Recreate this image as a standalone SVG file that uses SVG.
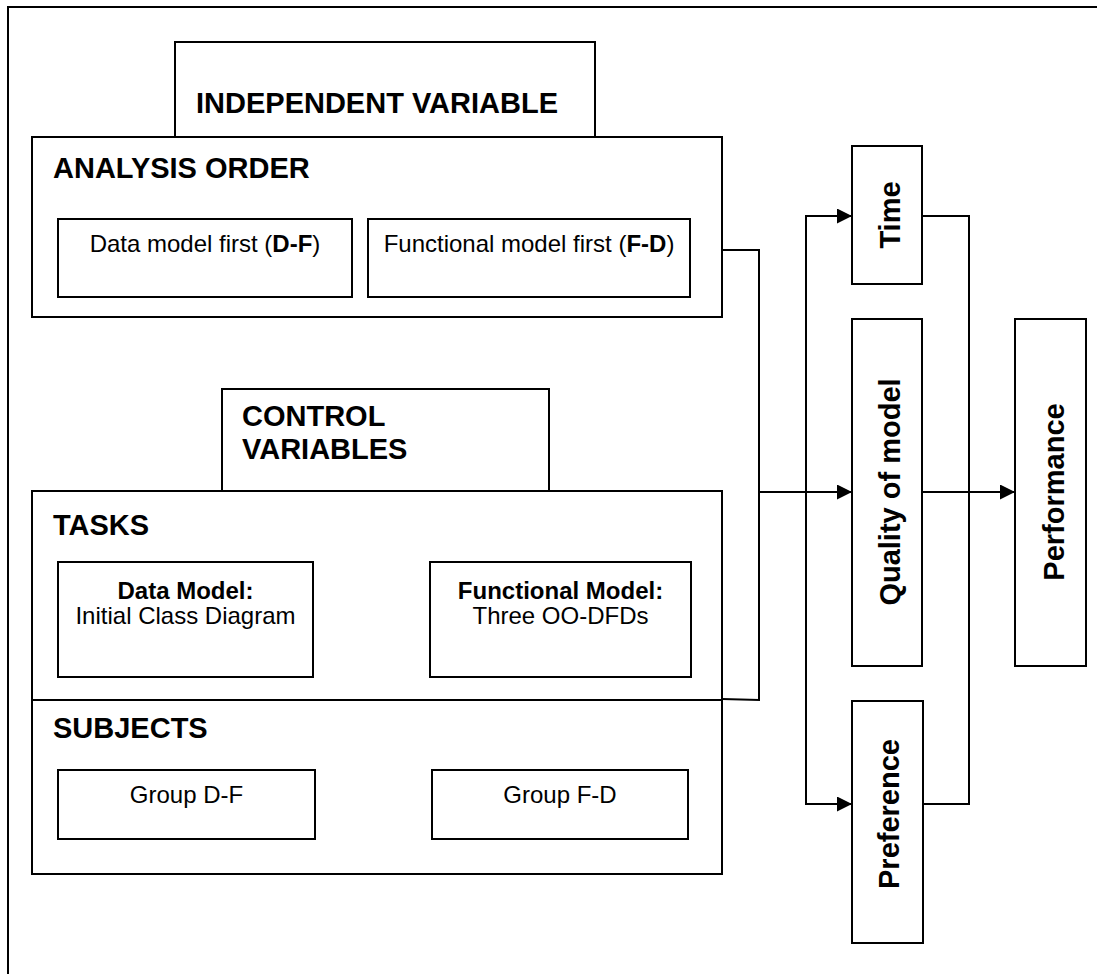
<svg xmlns="http://www.w3.org/2000/svg" width="1097" height="974" viewBox="0 0 1097 974">
<style>
.b{fill:#fff;stroke:#000;stroke-width:2}
.t{font-family:"Liberation Sans",Arial,sans-serif;font-size:24px;fill:#000}
.h{font-family:"Liberation Sans",Arial,sans-serif;font-size:29px;font-weight:bold;fill:#000}
.bo{font-weight:bold}
.c{fill:none;stroke:#000;stroke-width:2}
</style>
<defs>
<marker id="ah" markerUnits="userSpaceOnUse" markerWidth="16" markerHeight="16" refX="15" refY="7.5" orient="auto">
<path d="M0,0 L15,7.5 L0,15 Z" fill="#000"/>
</marker>
</defs>
<rect x="0" y="0" width="1097" height="974" fill="#fff"/>
<rect id="frame" x="8" y="7" width="1100" height="1000" class="b"/>

<g id="independent">
<rect x="175" y="42" width="420" height="95" class="b"/>
<text class="h" x="196" y="113">INDEPENDENT VARIABLE</text>
</g>
<g id="analysis-order">
<rect x="32" y="137" width="690" height="180" class="b"/>
<text class="h" x="53" y="178">ANALYSIS ORDER</text>
</g>
<g id="data-first">
<rect x="58" y="219" width="294" height="78" class="b"/>
<text class="t" x="205" y="252" text-anchor="middle">Data model first (<tspan class="bo">D-F</tspan>)</text>
</g>
<g id="func-first">
<rect x="368" y="219" width="322" height="78" class="b"/>
<text class="t" x="529" y="252" text-anchor="middle">Functional model first (<tspan class="bo">F-D</tspan>)</text>
</g>

<g id="control">
<rect x="222" y="389" width="327" height="102" class="b"/>
<text class="h" x="242" y="426">CONTROL</text>
<text class="h" x="242" y="459">VARIABLES</text>
</g>
<g id="tasks">
<rect x="32" y="491" width="690" height="209" class="b"/>
<text class="h" x="53" y="535">TASKS</text>
</g>
<g id="data-model">
<rect x="58" y="562" width="255" height="115" class="b"/>
<text class="t bo" x="185.5" y="599" text-anchor="middle">Data Model:</text>
<text class="t" x="185.5" y="624" text-anchor="middle">Initial Class Diagram</text>
</g>
<g id="func-model">
<rect x="430" y="562" width="261" height="115" class="b"/>
<text class="t bo" x="560.5" y="599" text-anchor="middle">Functional Model:</text>
<text class="t" x="560.5" y="624" text-anchor="middle">Three OO-DFDs</text>
</g>
<g id="subjects">
<rect x="32" y="700" width="690" height="174" class="b"/>
<text class="h" x="53" y="738">SUBJECTS</text>
</g>
<g id="group-df">
<rect x="58" y="770" width="257" height="69" class="b"/>
<text class="t" x="186.5" y="803" text-anchor="middle">Group D-F</text>
</g>
<g id="group-fd">
<rect x="432" y="770" width="256" height="69" class="b"/>
<text class="t" x="560" y="803" text-anchor="middle">Group F-D</text>
</g>

<g id="time">
<rect x="852" y="146" width="70" height="138" class="b"/>
<text class="h" text-anchor="middle" transform="translate(900,215) rotate(-90)">Time</text>
</g>
<g id="quality">
<rect x="852" y="319" width="70" height="347" class="b"/>
<text class="h" text-anchor="middle" transform="translate(900,492) rotate(-90)">Quality of model</text>
</g>
<g id="preference">
<rect x="852" y="701" width="71" height="242" class="b"/>
<text class="h" text-anchor="middle" transform="translate(899,814) rotate(-90)">Preference</text>
</g>
<g id="performance">
<rect x="1015" y="319" width="71" height="347" class="b"/>
<text class="h" text-anchor="middle" transform="translate(1064,492) rotate(-90)">Performance</text>
</g>

<g id="connectors">
<polyline class="c" points="722,250 759,250 759,700 722,699"/>
<line class="c" x1="759" y1="492" x2="852" y2="492" marker-end="url(#ah)"/>
<polyline class="c" points="852,216 806,216 806,804 852,804" marker-end="url(#ah)"/>
<path class="c" d="M806,216 L852,216" marker-end="url(#ah)"/>
<polyline class="c" points="922,216 969,216 969,804 923,804"/>
<line class="c" x1="922" y1="492" x2="1015" y2="492" marker-end="url(#ah)"/>
</g>
</svg>
